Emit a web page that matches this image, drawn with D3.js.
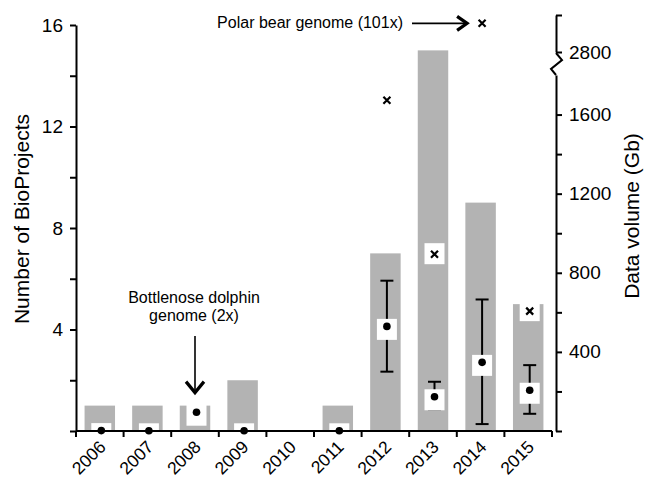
<!DOCTYPE html>
<html>
<head>
<meta charset="utf-8">
<script src="https://cdn.jsdelivr.net/npm/d3@7"></script>
<style>
  body { margin: 0; background: #fff; }
  svg text { font-family: "Liberation Sans", Arial, sans-serif; fill: #000; }
</style>
</head>
<body>
<div id="chart"></div>
<script>
// data
const years = [2006, 2007, 2008, 2009, 2010, 2011, 2012, 2013, 2014, 2015];
const projects = [1, 1, 1, 2, 0, 1, 7, 15, 9, 5];
const volMean = [2, 1, 95, 1, null, 1, 529, 173, 347, 206];
const volLow = [null, null, null, null, null, null, 300, 110, 35, 87];
const volHigh = [null, null, null, null, null, null, 760, 249, 665, 333];
const volMax = [null, null, null, null, null, null, 1672, 894, 2955, 606];
const leftTicks = [0, 2, 4, 6, 8, 10, 12, 14, 16];
const rightTicks = [0, 200, 400, 600, 800, 1000, 1200, 1400, 1600];
const upperTicks = [2800, 3000];

const w = 646;
const h = 481;

const svg = d3.select("#chart")
    .append("svg")
    .attr("width", w)
    .attr("height", h);

const x = d3.scaleBand()
    .domain(years)
    .range([76, 552])
    .paddingInner(0.36)
    .paddingOuter(0.18);

const y = d3.scaleLinear().domain([0, 16]).range([431, 25]);
// right axis is broken: lower part 0-1800, upper part 2800-3000
const y2 = d3.scaleLinear().domain([0, 1800]).range([431, 75]);
const y2u = d3.scaleLinear().domain([2800, 3000]).range([52, 15]);
const vy = (v) => v > 2000 ? y2u(v) : y2(v);

const cx = (i) => x(years[i]) + x.bandwidth() / 2 + 1.5;
const rightX = 556;

// bars
svg.selectAll("rect.bar")
    .data(years)
    .enter()
    .append("rect")
    .attr("class", "bar")
    .attr("x", (d) => x(d))
    .attr("y", (d, i) => y(projects[i]))
    .attr("width", x.bandwidth())
    .attr("height", (d, i) => y(0) - y(projects[i]))
    .attr("fill", "#b3b3b3");

const idx = years.map((d, i) => i);

// error bars
const err = idx.filter((i) => volLow[i] != null);
const eg = svg.append("g").attr("stroke", "#000").attr("stroke-width", 2);
err.forEach((i) => {
    eg.append("line")
        .attr("x1", cx(i)).attr("x2", cx(i))
        .attr("y1", y2(volLow[i])).attr("y2", y2(volHigh[i]));
    [volLow[i], volHigh[i]].forEach((v) => {
        eg.append("line")
            .attr("x1", cx(i) - 6.5).attr("x2", cx(i) + 6.5)
            .attr("y1", y2(v)).attr("y2", y2(v));
    });
});

// white boxes behind markers
const means = idx.filter((i) => volMean[i] != null);
const maxes = idx.filter((i) => volMax[i] != null);
svg.selectAll("rect.mbox")
    .data(means)
    .enter()
    .append("rect")
    .attr("class", "mbox")
    .attr("x", (i) => cx(i) - 10)
    .attr("y", (i) => Math.min(vy(volMean[i]) + 3 - 10.5, 431 - 6))
    .attr("width", 20)
    .attr("height", (i) => Math.min(21, 431 - Math.min(vy(volMean[i]) + 3 - 10.5, 425)))
    .attr("fill", "#fff");
svg.selectAll("rect.xbox")
    .data(maxes)
    .enter()
    .append("rect")
    .attr("class", "xbox")
    .attr("x", (i) => cx(i) - 10)
    .attr("y", (i) => vy(volMax[i]) - 11)
    .attr("width", 20)
    .attr("height", 21)
    .attr("fill", "#fff");

// left axis
const yAxis = d3.axisLeft(y)
    .tickValues(leftTicks)
    .tickSize(6)
    .tickSizeOuter(0)
    .tickPadding(7)
    .tickFormat((d) => (d > 0 && d % 4 === 0) ? d : "");
const gl = svg.append("g")
    .attr("transform", "translate(76,0)")
    .call(yAxis);

// bottom axis with ticks at band edges
const gx = svg.append("g");
gx.append("line")
    .attr("x1", x.range()[0]).attr("x2", x.range()[1])
    .attr("y1", y(0)).attr("y2", y(0));
d3.range(years.length + 1).forEach((k) => {
    const px = x.range()[0] + k * x.step();
    gx.append("line")
        .attr("x1", px).attr("x2", px)
        .attr("y1", y(0)).attr("y2", y(0) + 6);
});
gx.selectAll("line").attr("stroke", "#000").attr("stroke-width", 2);
gx.selectAll("text")
    .data(years)
    .enter()
    .append("text")
    .attr("transform", (d) => "translate(" + (x(d) + x.bandwidth() / 2 + 7) + ",448) rotate(-45)")
    .attr("text-anchor", "end")
    .attr("font-size", 17.5)
    .text((d) => d);

// right axis, lower part
const y2Axis = d3.axisRight(y2)
    .tickValues(rightTicks)
    .tickSize(6)
    .tickSizeOuter(0)
    .tickPadding(7)
    .tickFormat((d) => (d > 0 && d % 400 === 0) ? d : "");
const gr = svg.append("g")
    .attr("transform", "translate(" + rightX + ",0)")
    .call(y2Axis);

// right axis, upper part
const yuAxis = d3.axisRight(y2u)
    .tickValues(upperTicks)
    .tickSize(6)
    .tickSizeOuter(0)
    .tickPadding(7)
    .tickFormat((d) => d === 2800 ? d : "");
const gu = svg.append("g")
    .attr("transform", "translate(" + rightX + ",0)")
    .call(yuAxis);

// zigzag axis break
const zy0 = y2u(2800) + 1;
const zy1 = y2(1800);
svg.append("path")
    .attr("d", "M" + rightX + "," + zy0 +
        "L" + (rightX + 6) + "," + (zy0 + 7) +
        "L" + (rightX - 5) + "," + (zy1 - 6) +
        "L" + rightX + "," + zy1)
    .attr("fill", "none")
    .attr("stroke", "#000")
    .attr("stroke-width", 2);

[gl, gr, gu].forEach((g) => {
    g.selectAll(".domain, .tick line").attr("stroke", "#000").attr("stroke-width", 2);
    g.selectAll("text")
        .attr("font-size", 19)
        .attr("font-family", "'Liberation Sans', Arial, sans-serif")
        .attr("fill", "#000");
});

// mean dots
svg.selectAll("circle.mean")
    .data(means)
    .enter()
    .append("circle")
    .attr("class", "mean")
    .attr("cx", (i) => cx(i))
    .attr("cy", (i) => vy(volMean[i]))
    .attr("r", 3.8)
    .attr("fill", "#000");

// max crosses
const xs = 3.5;
svg.selectAll("path.max")
    .data(maxes)
    .enter()
    .append("path")
    .attr("class", "max")
    .attr("d", (i) => {
        const px = cx(i), py = vy(volMax[i]);
        return "M" + (px - xs) + "," + (py - xs) + "L" + (px + xs) + "," + (py + xs) +
            "M" + (px - xs) + "," + (py + xs) + "L" + (px + xs) + "," + (py - xs);
    })
    .attr("stroke", "#000")
    .attr("stroke-width", 2.2);

// axis titles
svg.append("text")
    .attr("transform", "translate(28.5,219) rotate(-90)")
    .attr("text-anchor", "middle")
    .attr("font-size", 21)
    .text("Number of BioProjects");
svg.append("text")
    .attr("transform", "translate(639,216) rotate(-90)")
    .attr("text-anchor", "middle")
    .attr("font-size", 21)
    .text("Data volume (Gb)");

// annotation: polar bear
const pi = years.indexOf(2014);
const ppx = cx(pi), ppy = vy(volMax[pi]);
svg.append("text")
    .attr("x", 403)
    .attr("y", ppy + 5)
    .attr("text-anchor", "end")
    .attr("font-size", 16)
    .text("Polar bear genome (101x)");
svg.append("line")
    .attr("x1", 412).attr("x2", ppx - 15)
    .attr("y1", ppy).attr("y2", ppy)
    .attr("stroke", "#000").attr("stroke-width", 1.6);
svg.append("path")
    .attr("d", "M" + (ppx - 25) + "," + (ppy - 7) + "L" + (ppx - 15) + "," + ppy + "L" + (ppx - 25) + "," + (ppy + 7))
    .attr("fill", "none").attr("stroke", "#000").attr("stroke-width", 3.2);

// annotation: bottlenose dolphin
const di = years.indexOf(2008);
const dpx = x(years[di]) + x.bandwidth() / 2;
const tip = y(projects[di]) - 13;
const dt = svg.append("text")
    .attr("x", dpx - 1)
    .attr("y", 303)
    .attr("text-anchor", "middle")
    .attr("font-size", 16);
dt.append("tspan").attr("x", dpx - 1).text("Bottlenose dolphin");
dt.append("tspan").attr("x", dpx - 1).attr("dy", 18).text("genome (2x)");
svg.append("line")
    .attr("x1", dpx).attr("x2", dpx)
    .attr("y1", 336).attr("y2", tip)
    .attr("stroke", "#000").attr("stroke-width", 1.6);
svg.append("path")
    .attr("d", "M" + (dpx - 9) + "," + (tip - 11) + "L" + dpx + "," + tip + "L" + (dpx + 9) + "," + (tip - 11))
    .attr("fill", "none").attr("stroke", "#000").attr("stroke-width", 3.2);
</script>
</body>
</html>
